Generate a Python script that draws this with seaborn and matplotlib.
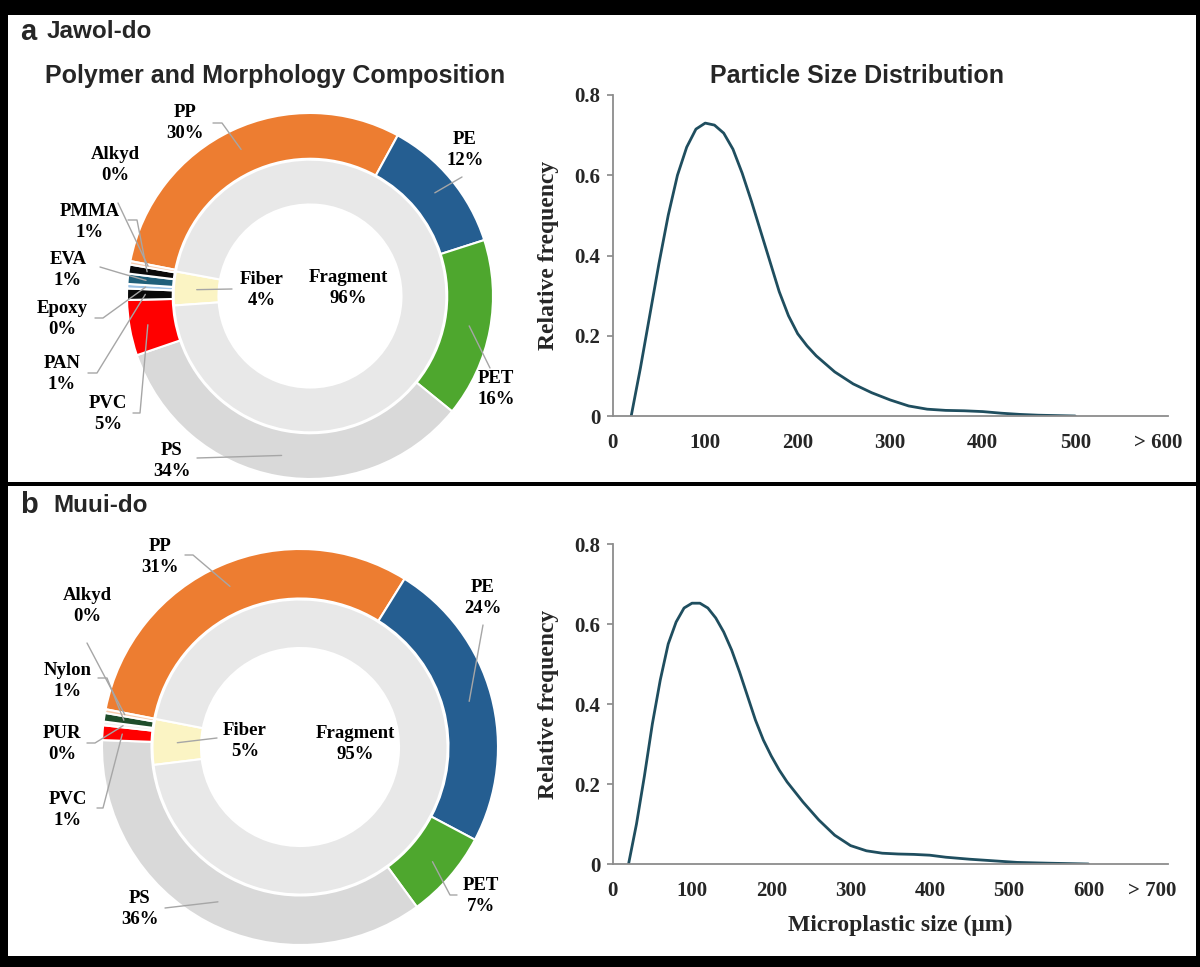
import math
import matplotlib
matplotlib.use("Agg")
import matplotlib.pyplot as plt
from matplotlib.patches import Rectangle
import seaborn as sns

sns.set_theme(style="white")
plt.rcParams["font.family"] = ["Liberation Serif", "DejaVu Serif"]
plt.rcParams["font.weight"] = "bold"

W, H = 1200, 967

# ---- data ----
polymers_a = ["PP", "PE", "PET", "PS", "PVC", "PAN", "Epoxy", "EVA", "PMMA", "Alkyd"]
share_a = [29.9, 12.1, 15.8, 33.9, 4.9, 1.0, 0.4, 0.9, 0.8, 0.3]
polymers_b = ["PP", "PE", "PET", "PS", "PVC", "PUR", "Nylon", "Alkyd"]
share_b = [30.8, 23.9, 7.2, 35.6, 1.2, 0.3, 0.7, 0.3]
shapes = ["Fiber", "Fragment"]
shape_a = [4, 96]
shape_b = [5, 95]

size_a = [20, 30, 40, 50, 60, 70, 80, 90, 100, 110, 120, 130, 140, 150, 160, 170,
          180, 190, 200, 210, 220, 240, 260, 280, 300, 320, 340, 360, 380, 400, 420,
          440, 460, 500]
freq_a = [0.0, 0.12, 0.25, 0.38, 0.50, 0.60, 0.67, 0.715, 0.73, 0.725, 0.705, 0.665,
          0.605, 0.535, 0.46, 0.385, 0.31, 0.25, 0.205, 0.175, 0.15, 0.11, 0.08,
          0.058, 0.04, 0.025, 0.017, 0.014, 0.013, 0.011, 0.007, 0.004, 0.002, 0.0]
size_b = [20, 30, 40, 50, 60, 70, 80, 90, 100, 110, 120, 130, 140, 150, 160, 170,
          180, 190, 200, 210, 220, 240, 260, 280, 300, 320, 340, 360, 380, 400,
          420, 450, 480, 510, 550, 600]
freq_b = [0.0, 0.10, 0.22, 0.35, 0.46, 0.55, 0.605, 0.64, 0.652, 0.652, 0.64,
          0.615, 0.58, 0.535, 0.48, 0.42, 0.36, 0.31, 0.27, 0.235, 0.205, 0.155,
          0.11, 0.072, 0.046, 0.033, 0.027, 0.025, 0.024, 0.022, 0.017, 0.012,
          0.008, 0.004, 0.002, 0.0]

ticks_a = ["0", "100", "200", "300", "400", "500", "> 600"]
ticks_b = ["0", "100", "200", "300", "400", "500", "600", "> 700"]

# ---- styles ----
poly_colors = {"PP": "#ed7d31", "PE": "#255e91", "PET": "#4ea72e", "PS": "#d9d9d9",
               "PVC": "#ff0000", "PAN": "#0a0a0a", "Epoxy": "#9dc3e6", "EVA": "#1f5f7a",
               "PMMA": "#0a0a0a", "Alkyd": "#f8cbad", "PUR": "#f2f2f2", "Nylon": "#1e4d2b"}
shape_colors = ["#fbf4c4", "#e8e8e8"]
curve_col = "#1f4e5f"
lead_col = "#a6a6a6"
axis_col = "#8c8c8c"

fig = plt.figure(figsize=(W / 100, H / 100), dpi=100, facecolor="black")
for top, bot in [(15, 482), (486, 956)]:
    fig.add_artist(Rectangle((8 / W, 1 - bot / H), (1196 - 8) / W, (bot - top) / H,
                             transform=fig.transFigure, facecolor="white",
                             edgecolor="none", zorder=-5))

ax_d = fig.add_axes([0, 0, 1, 1])
ax_d.set_facecolor("none")


def donut(names, vals, inner_vals, cx, cy, R, start_out, start_in, layout):
    cy = H - cy
    wp = dict(edgecolor="white", linewidth=1.5)
    w_out, _ = ax_d.pie(vals, colors=[poly_colors[n] for n in names], radius=R,
                        center=(cx, cy), startangle=start_out, counterclock=False,
                        wedgeprops=dict(width=0.25 * R, **wp))
    w_in, _ = ax_d.pie(inner_vals, colors=shape_colors, radius=0.745 * R,
                       center=(cx, cy), startangle=start_in, counterclock=False,
                       wedgeprops=dict(width=0.245 * R, **wp))
    wedges = dict(zip(names, w_out))
    wedges.update(zip(shapes, w_in))
    values = dict(zip(names, vals))
    values.update(zip(shapes, inner_vals))
    for name, (lx, ly, path, rf) in layout.items():
        ax_d.text(lx, H - ly, f"{name}\n{values[name]:.0f}%", ha="center",
                  va="center", fontsize=13.5, linespacing=1.3, color="black")
        if path is None:
            continue
        w = wedges[name]
        mid = math.radians((w.theta1 + w.theta2) / 2)
        tip = (cx + rf * R * math.cos(mid), cy + rf * R * math.sin(mid))
        xs = [p[0] for p in path] + [tip[0]]
        ys = [H - p[1] for p in path] + [tip[1]]
        ax_d.plot(xs, ys, color=lead_col, lw=1)


# label centre, leader start/elbow (pixels), tip radius fraction
layout_a = {
    "PP": (185, 123, [(213, 123), (222, 123)], 0.885),
    "PE": (465, 150, [(462, 177)], 0.885),
    "PET": (496, 389, [(490, 368)], 0.885),
    "PS": (172, 461, [(197, 458)], 0.885),
    "Fiber": (262, 290, [(232, 289)], 0.62),
    "Fragment": (348, 288, None, 0),
    "Alkyd": (115, 165, [(118, 203)], 0.9),
    "PMMA": (90, 222, [(128, 220), (137, 220)], 0.9),
    "EVA": (68, 270, [(100, 267), (120, 273)], 0.9),
    "Epoxy": (62, 319, [(95, 318), (103, 318)], 0.9),
    "PAN": (62, 374, [(88, 373), (97, 373)], 0.9),
    "PVC": (108, 414, [(133, 413), (140, 413)], 0.9),
}
layout_b = {
    "PP": (160, 557, [(185, 555), (193, 555)], 0.885),
    "PE": (483, 598, [(483, 625)], 0.885),
    "PET": (481, 896, [(457, 895), (450, 895)], 0.885),
    "PS": (140, 909, [(165, 908)], 0.885),
    "Fiber": (245, 741, [(217, 738)], 0.62),
    "Fragment": (355, 744, None, 0),
    "Alkyd": (87, 606, [(87, 643)], 0.9),
    "Nylon": (68, 681, [(98, 678), (107, 678)], 0.9),
    "PUR": (62, 744, [(87, 743), (95, 743)], 0.9),
    "PVC": (68, 810, [(97, 808), (103, 808)], 0.9),
}

donut(polymers_a, share_a, shape_a, 310, 296, 183, 169, 184, layout_a)
donut(polymers_b, share_b, shape_b, 300, 747, 198, 169, 187, layout_b)
ax_d.set_xlim(0, W)
ax_d.set_ylim(0, H)
ax_d.set_aspect("auto")
ax_d.axis("off")


def size_plot(rect, sizes, freqs, xmax, labels, last_pos):
    ax = fig.add_axes(rect)
    ax.set_facecolor("none")
    sns.lineplot(x=sizes, y=freqs, ax=ax, color=curve_col, lw=2)
    ax.set_xlim(0, xmax)
    ax.set_ylim(0, 0.8)
    ax.set_xticks(list(range(0, xmax - 99, 100)) + [last_pos])
    ax.set_xticklabels(labels)
    ax.set_yticks([0, 0.2, 0.4, 0.6, 0.8])
    ax.set_yticklabels(["0", "0.2", "0.4", "0.6", "0.8"])
    for s in ["top", "right"]:
        ax.spines[s].set_visible(False)
    for s in ["left", "bottom"]:
        ax.spines[s].set_color(axis_col)
        ax.spines[s].set_linewidth(1.3)
    ax.tick_params(axis="y", length=4, color=axis_col, labelsize=15, pad=5,
                   direction="out", left=True)
    ax.tick_params(axis="x", length=0, labelsize=15, pad=12)
    ax.set_ylabel("Relative frequency", fontsize=17, fontweight="bold")
    ax.yaxis.set_label_coords(-0.097, 0.5)
    return ax


ax_a = size_plot([612.7 / W, (H - 416) / H, 555 / W, 321 / H], size_a, freq_a,
                 600, ticks_a, 590)
ax_b = size_plot([612.7 / W, (H - 864) / H, 555 / W, 320 / H], size_b, freq_b,
                 700, ticks_b, 680)
ax_b.set_xlabel("Microplastic size (\u03bcm)", fontsize=17, fontweight="bold")
ax_b.xaxis.set_label_coords(0.518, -0.16)

sans = ["Liberation Sans", "DejaVu Sans"]
fig.text(275 / W, 1 - 76 / H, "Polymer and Morphology Composition", family=sans,
         fontsize=18, ha="center", va="center")
fig.text(857 / W, 1 - 76 / H, "Particle Size Distribution", family=sans,
         fontsize=18, ha="center", va="center")
fig.text(20 / W, 1 - 32 / H, "a", family=sans, fontsize=21, va="center")
fig.text(47 / W, 1 - 32 / H, "Jawol-do", family=sans, fontsize=17.5, va="center")
fig.text(20 / W, 1 - 505 / H, "b", family=sans, fontsize=21, va="center")
fig.text(53 / W, 1 - 505 / H, "Muui-do", family=sans, fontsize=17.5, va="center")

fig.savefig("out.png", dpi=100, facecolor="black")
